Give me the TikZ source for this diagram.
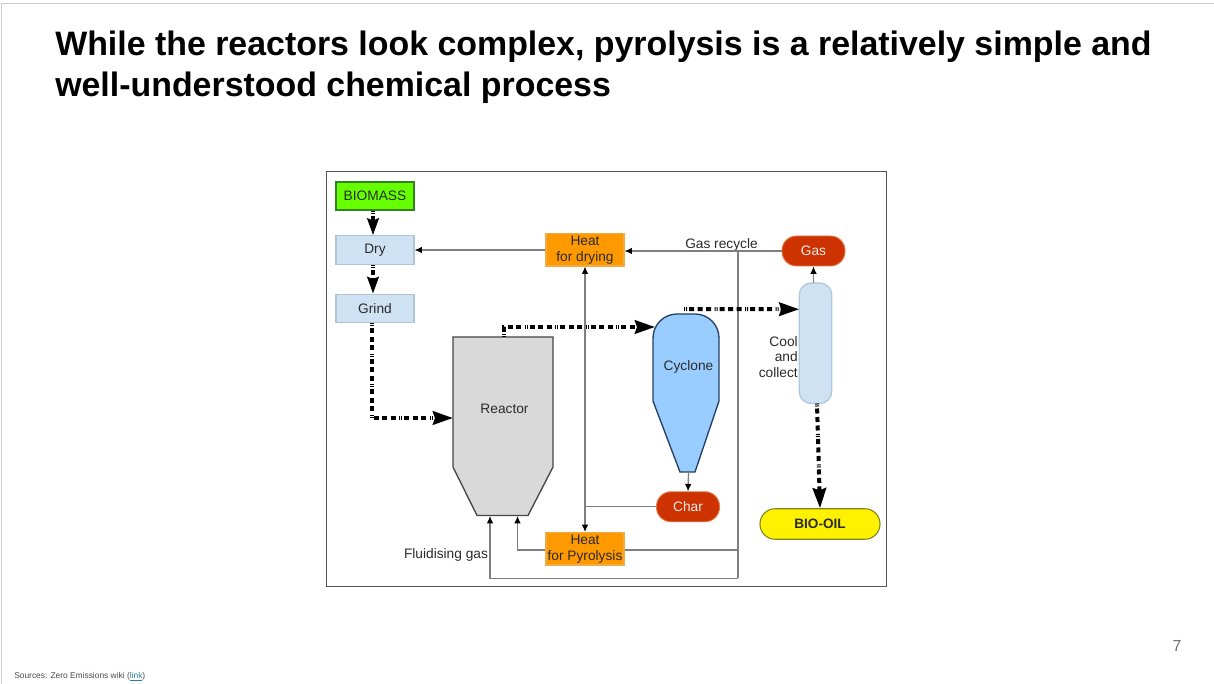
\documentclass[tikz,border=0pt]{standalone}
\usepackage{fontspec}
\setmainfont{Liberation Sans}
\usetikzlibrary{arrows.meta}
\def\px{0.75pt}
\definecolor{txt}{HTML}{2B2B2B}
\definecolor{linegray}{HTML}{7F7F7F}
\tikzset{
  x=0.75pt,y=-0.75pt,
  lab/.style={font=\fontsize{10.3pt}{12pt}\selectfont,text=txt,align=center,inner sep=0pt},
  box/.style={lab,draw,line width=0.8pt,minimum width=78*\px,inner sep=0pt},
  bluebox/.style={box,fill={rgb,255:red,207;green,226;blue,243},draw={rgb,255:red,176;green,196;blue,212},minimum height=28.5*\px},
  orangebox/.style={box,fill={rgb,255:red,255;green,153;blue,0},draw={rgb,255:red,240;green,170;blue,70},minimum height=32.5*\px},
  orangetext/.style={font=\fontsize{10.3pt}{12.2pt}\selectfont,text=txt,align=center,inner sep=0pt},
  redpill/.style={lab,text=white!92!black,draw={rgb,255:red,230;green,120;blue,70},line width=0.7pt,fill={rgb,255:red,204;green,51;blue,0},rounded corners=14.5*\px,minimum height=30*\px,minimum width=63*\px},
  ghost/.style={inner sep=0pt,outer sep=0pt,draw=none},
  thin arrow/.style={draw=linegray,line width=0.9pt,-{Latex[black,length=5.5pt,width=5pt]}},
  thin line/.style={draw=linegray,line width=0.9pt},
  flow/.style={draw=black,line width=4*\px,
    dash pattern=on 1*\px off 1*\px on 1*\px off 2*\px on 5*\px off 3.5*\px on 5*\px off 3.5*\px on 5*\px off 3.5*\px,
    -{Stealth[black,length=15pt,width=10pt,inset=1.5pt]}},
  short flow/.style={flow,-{Stealth[black,length=12.5pt,width=8.5pt,inset=1.5pt]}},
}
\begin{document}
\begin{tikzpicture}
\useasboundingbox (0,0) rectangle (1214,684);
\fill[white] (0,0) rectangle (1214,684);
\draw[black!20,line width=0.6pt] (1,684) -- (1,3) -- (1214,3);

% title
\node[anchor=base west,inner sep=0pt,font=\fontsize{25.42pt}{30pt}\selectfont\bfseries] (title1) at (55,56) {While the reactors look complex, pyrolysis is a relatively simple and};
\node[anchor=base west,inner sep=0pt,font=\fontsize{25.42pt}{30pt}\selectfont\bfseries] (title2) at (55,97) {well-understood chemical process};

% frame
\node[ghost,draw={rgb,255:red,85;green,85;blue,85},line width=0.7pt,minimum width=560*\px,minimum height=415*\px] (frame) at (606,378.5) {};

% boxes
\node[box,fill={rgb,255:red,102;green,255;blue,0},draw={rgb,255:red,50;green,130;blue,30},minimum height=28*\px] (biomass) at (375,196) {BIOMASS};
\node[bluebox] (dry) at (375,250) {Dry};
\node[bluebox] (grind) at (375,308.5) {Grind};
\node[orangebox] (heatdry) at (585,249.75) {};
\node[orangetext] (heatdrylab) at (585,250.5) {Heat\\for drying};
\node[orangebox] (heatpyr) at (585,548.75) {};
\node[orangetext] (heatpyrlab) at (585,549.5) {Heat\\for Pyrolysis};

% reactor
\node[ghost,minimum width=100*\px,minimum height=179*\px] (reactor) at (503,426.5) {};
\draw[fill={rgb,255:red,217;green,217;blue,217},draw={rgb,255:red,70;green,70;blue,70},line width=1pt]
  (453,337) -- (553,337) -- (553,467) -- (528,515.5) -- (477,515.5) -- (453,467) -- cycle;
\node[lab] (reactorlab) at (504.5,409) {Reactor};

% cyclone
\node[ghost,minimum width=66*\px,minimum height=158*\px] (cyclone) at (686,393) {};
\draw[fill={rgb,255:red,153;green,204;blue,255},draw={rgb,255:red,35;green,65;blue,100},line width=1pt]
  (680,472) -- (653,401) [rounded corners=24*\px] -- (653,314) -- (719,314) [sharp corners] -- (719,401) -- (695,472) -- cycle;
\node[lab] (cyclonelab) at (688.5,367) {Cyclone};

\node[redpill] (char) at (688,506.75) {Char};
\node[redpill] (gas) at (813.5,251) {Gas};

% condenser
\node[ghost,draw={rgb,255:red,176;green,200;blue,222},fill={rgb,255:red,207;green,226;blue,243},line width=1pt,rounded corners=12*\px,minimum width=32.5*\px,minimum height=120.5*\px] (cool) at (815.5,343.25) {};
\node[lab,align=right,anchor=east,font=\fontsize{10.3pt}{11.7pt}\selectfont] (coollab) at (798,357) {Cool\\and\\collect};

\node[lab,font=\fontsize{10.2pt}{12pt}\selectfont\bfseries,draw={rgb,255:red,128;green,128;blue,30},line width=0.8pt,fill=yellow,rounded corners=15*\px,minimum width=120*\px,minimum height=30.5*\px] (biooil) at (820,524) {BIO-OIL};

% labels
\node[lab] (gasrec) at (721.5,244.5) {Gas recycle};
\node[lab] (fluid) at (446,555) {Fluidising gas};

% thin connectors
\draw[thin arrow] (heatdry.west |- dry.east) -- (dry.east);
\draw[thin arrow] (gas.west) -- (gas.west -| heatdry.east);
\draw[thin line] (738,251) -- (738,578);
\draw[thin arrow] ([shift={(738-585,13)}]heatpyr.south) -| ([shift={(-13,0)}]reactor.south);
\draw[thin line] (heatpyr.east |- 0,550) -- (738,550);
\draw[thin arrow] (heatpyr.west |- 0,550) -| ([shift={(14.5,0)}]reactor.south);
\draw[thin line] (char.west) -- (char.west -| heatdry.south);
\draw[thin arrow] (heatdry.south |- char.west) -- (heatdry.south);
\draw[thin arrow] (heatpyr.north |- char.west) -- (heatpyr.north);
\draw[thin arrow] ([xshift=2.5*\px]cyclone.south) -- (char.north);
\draw[thin arrow] (cool.north -| gas.south) -- (gas.south);

% thick flows
\draw[short flow] ([xshift=-2*\px]biomass.south) -- ([xshift=-2*\px]dry.north);
\draw[short flow] ([xshift=-2*\px]dry.south) -- ([xshift=-2*\px]grind.north);
\draw[flow] ([xshift=-3*\px]grind.south) |- ([shift={(0,-8.5)}]reactor.west);
\draw[flow] ([xshift=1*\px]reactor.north) |- ([shift={(2,-66)}]cyclone.west);
\draw[flow] ([shift={(-2,-5)}]cyclone.north) -- ([shift={(0,-34)}]cool.west);
\draw[flow] ([xshift=1.5*\px]cool.south) -- ([shift={(0,0)}]biooil.north);

% footer
\node[anchor=base west,inner sep=0pt,font=\fontsize{6.3pt}{8pt}\selectfont,text=black!70] (src) at (14,678) {Sources: Zero Emissions wiki ({\color[HTML]{2E7D9A}\underline{link}})};
\node[anchor=center,inner sep=0pt,font=\fontsize{12pt}{14pt}\selectfont,text=black!55] (page) at (1177,646) {7};
\end{tikzpicture}
\end{document}
